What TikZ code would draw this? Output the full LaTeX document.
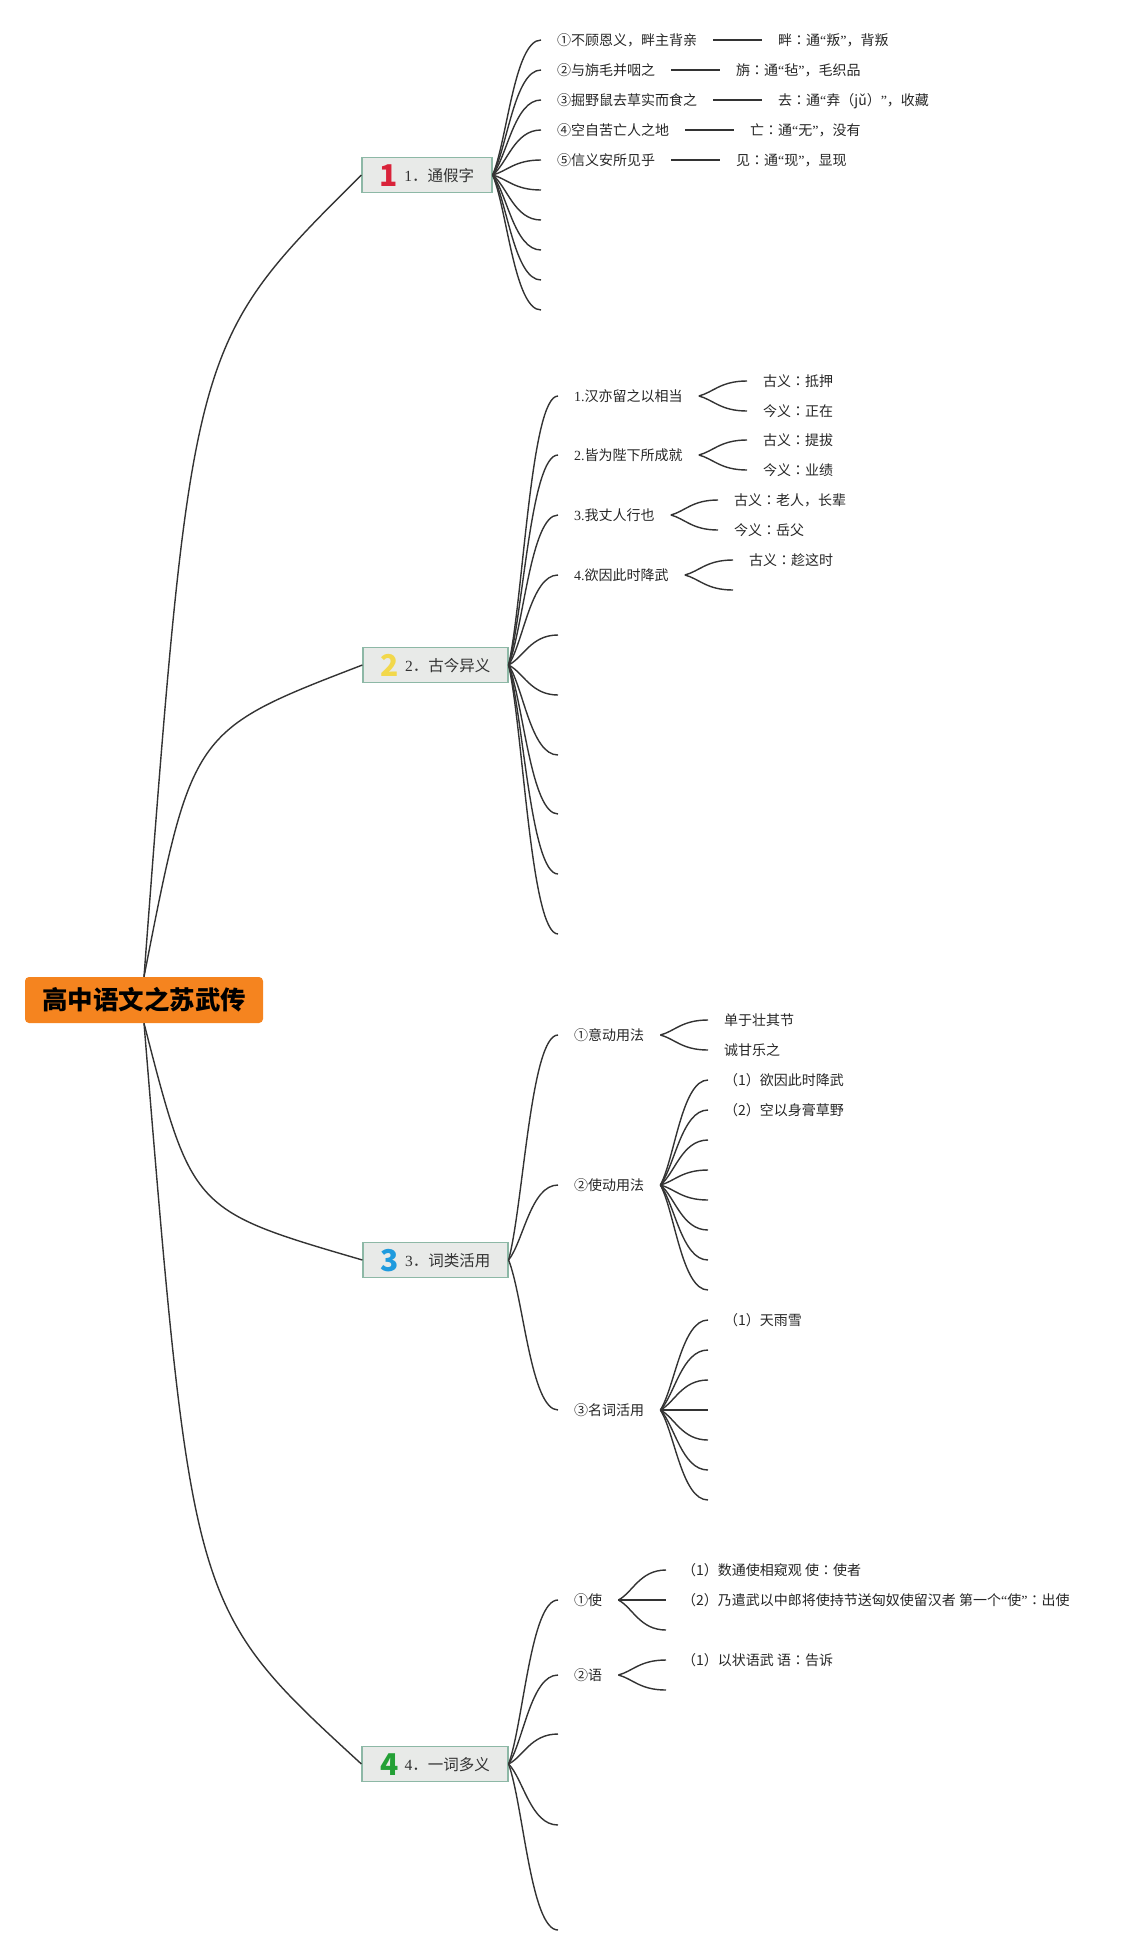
\documentclass[tikz,border=0pt]{standalone}
\usepackage{fontspec}
\setmainfont{Noto Sans CJK SC}
\newfontfamily\latf{Liberation Serif}
\newfontfamily\tcf{Noto Sans CJK TC}
\usepackage{tikz}
\usepackage{xcolor}
\usetikzlibrary{calc}

\definecolor{rootorange}{HTML}{F5841F}
\definecolor{boxgrey}{HTML}{E8EAE8}
\definecolor{boxline}{HTML}{8DB8A6}
\definecolor{conngrey}{HTML}{333333}
\definecolor{iconred}{HTML}{D9233A}
\definecolor{iconyellow}{HTML}{F2D84B}
\definecolor{iconblue}{HTML}{1F9BDE}
\definecolor{icongreen}{HTML}{23A035}

\newcommand{\bicon}[2]{\raisebox{-5pt}{\fontsize{30}{30}\selectfont\bfseries\color{#1}#2}\hspace{6pt}}
\newcommand{\qo}{{\latf “}}
\newcommand{\qc}{{\latf ”}}
\newcommand{\cln}{{\tcf ：}}

\begin{document}
\begin{tikzpicture}[x=1pt,y=-1pt,
  rootbox/.style={fill=rootorange,rounded corners=4pt,minimum width=238pt,minimum height=46pt,font=\fontsize{25.5}{26}\selectfont\bfseries,text=black},
  branchbox/.style={draw=boxline,fill=boxgrey,line width=1.2pt,minimum height=35pt,text height=13pt,text depth=1pt,inner xsep=0pt,font=\fontsize{15.5}{16}\selectfont,text=black!80},
  leaftext/.style={anchor=west,inner xsep=16pt,inner ysep=0pt,text height=11pt,text depth=1pt,font=\fontsize{14}{14}\selectfont,text=black!85},
  conn/.style={draw=conngrey,line width=1.4pt},
  rootlink/.style={conn,to path={let \p1=($(\tikztostart)!0.22!(\tikztotarget)$), \p2=($(\tikztostart)!0.79!(\tikztotarget)$) in .. controls (\x1,\y2) .. (\tikztotarget)}},
  fanlink/.style={conn,to path={let \p1=(\tikztostart), \p2=(\tikztotarget) in .. controls ({\x1+0.3*(\x2-\x1)},{\y1+0.25*(\y2-\y1)}) and ({\x1+0.45*(\x2-\x1)},\y2) .. (\tikztotarget)}}
]

\useasboundingbox (0,0) rectangle (1128,1955);

\node[rootbox] (root) at (144,1000) {高中语文之苏武传};

\node[branchbox,minimum width=130pt] (b1) at (427,175) {\bicon{iconred}{1}{\latf 1}．通假字};
\node[branchbox,minimum width=145pt] (b2) at (435.5,665) {\bicon{iconyellow}{2}{\latf 2}．古今异义};
\node[branchbox,minimum width=145pt] (b3) at (435.5,1260) {\bicon{iconblue}{3}{\latf 3}．词类活用};
\node[branchbox,minimum width=146pt] (b4) at (435,1764) {\bicon{icongreen}{4}{\latf 4}．一词多义};

\draw[rootlink] (root.north) to (b1.west);
\draw[rootlink] (root.north) to (b2.west);
\draw[rootlink] (root.south) to (b3.west);
\draw[rootlink] (root.south) to (b4.west);

\node[leaftext] (t1) at (541,40) {①不顾恩义，畔主背亲};
\node[leaftext] (t2) at (541,70) {②与旃毛并咽之};
\node[leaftext] (t3) at (541,100) {③掘野鼠去草实而食之};
\node[leaftext] (t4) at (541,130) {④空自苦亡人之地};
\node[leaftext] (t5) at (541,160) {⑤信义安所见乎};
\coordinate (t6) at (541,190);
\coordinate (t7) at (541,220);
\coordinate (t8) at (541,250);
\coordinate (t9) at (541,280);
\coordinate (t10) at (541,310);

\node[leaftext] (t1a) at (762,40) {畔\cln 通\qo 叛\qc ，背叛};
\node[leaftext] (t2a) at (720,70) {旃\cln 通\qo 毡\qc ，毛织品};
\node[leaftext] (t3a) at (762,100) {去\cln 通\qo 弆（jǔ）\qc ，收藏};
\node[leaftext] (t4a) at (734,130) {亡\cln 通\qo 无\qc ，没有};
\node[leaftext] (t5a) at (720,160) {见\cln 通\qo 现\qc ，显现};

\draw[fanlink] (b1.east) to (t1.west);
\draw[fanlink] (b1.east) to (t2.west);
\draw[fanlink] (b1.east) to (t3.west);
\draw[fanlink] (b1.east) to (t4.west);
\draw[fanlink] (b1.east) to (t5.west);
\draw[fanlink] (b1.east) to (t6);
\draw[fanlink] (b1.east) to (t7);
\draw[fanlink] (b1.east) to (t8);
\draw[fanlink] (b1.east) to (t9);
\draw[fanlink] (b1.east) to (t10);

\draw[conn] (t1.east) -- (t1a.west);
\draw[conn] (t2.east) -- (t2a.west);
\draw[conn] (t3.east) -- (t3a.west);
\draw[conn] (t4.east) -- (t4a.west);
\draw[conn] (t5.east) -- (t5a.west);

\node[leaftext] (g1) at (558,396) {{\latf 1.}汉亦留之以相当};
\node[leaftext] (g2) at (558,455) {{\latf 2.}皆为陛下所成就};
\node[leaftext] (g3) at (558,515) {{\latf 3.}我丈人行也};
\node[leaftext] (g4) at (558,575) {{\latf 4.}欲因此时降武};
\coordinate (g5) at (558,635);
\coordinate (g6) at (558,695);
\coordinate (g7) at (558,755);
\coordinate (g8) at (558,814);
\coordinate (g9) at (558,874);
\coordinate (g10) at (558,934);

\node[leaftext] (g1a) at (747,381) {古义\cln 抵押};
\node[leaftext] (g1b) at (747,411) {今义\cln 正在};
\node[leaftext] (g2a) at (747,440) {古义\cln 提拔};
\node[leaftext] (g2b) at (747,470) {今义\cln 业绩};
\node[leaftext] (g3a) at (718,500) {古义\cln 老人，长辈};
\node[leaftext] (g3b) at (718,530) {今义\cln 岳父};
\node[leaftext] (g4a) at (733,560) {古义\cln 趁这时};
\coordinate (g4b) at (733,590);

\draw[fanlink] (b2.east) to (g1.west);
\draw[fanlink] (b2.east) to (g2.west);
\draw[fanlink] (b2.east) to (g3.west);
\draw[fanlink] (b2.east) to (g4.west);
\draw[fanlink] (b2.east) to (g5);
\draw[fanlink] (b2.east) to (g6);
\draw[fanlink] (b2.east) to (g7);
\draw[fanlink] (b2.east) to (g8);
\draw[fanlink] (b2.east) to (g9);
\draw[fanlink] (b2.east) to (g10);

\draw[fanlink] (g1.east) to (g1a.west);
\draw[fanlink] (g1.east) to (g1b.west);
\draw[fanlink] (g2.east) to (g2a.west);
\draw[fanlink] (g2.east) to (g2b.west);
\draw[fanlink] (g3.east) to (g3a.west);
\draw[fanlink] (g3.east) to (g3b.west);
\draw[fanlink] (g4.east) to (g4a.west);
\draw[fanlink] (g4.east) to (g4b);

\node[leaftext] (w1) at (558,1035) {①意动用法};
\node[leaftext] (w2) at (558,1185) {②使动用法};
\node[leaftext] (w3) at (558,1410) {③名词活用};

\node[leaftext] (w1a) at (708,1020) {单于壮其节};
\node[leaftext] (w1b) at (708,1050) {诚甘乐之};

\node[leaftext] (w2a) at (708,1080) {（1）欲因此时降武};
\node[leaftext] (w2b) at (708,1110) {（2）空以身膏草野};
\coordinate (w2c) at (708,1140);
\coordinate (w2d) at (708,1170);
\coordinate (w2e) at (708,1200);
\coordinate (w2f) at (708,1230);
\coordinate (w2g) at (708,1260);
\coordinate (w2h) at (708,1290);

\node[leaftext] (w3a) at (708,1320) {（1）天雨雪};
\coordinate (w3b) at (708,1350);
\coordinate (w3c) at (708,1380);
\coordinate (w3d) at (708,1410);
\coordinate (w3e) at (708,1440);
\coordinate (w3f) at (708,1470);
\coordinate (w3g) at (708,1500);

\draw[fanlink] (b3.east) to (w1.west);
\draw[fanlink] (b3.east) to (w2.west);
\draw[fanlink] (b3.east) to (w3.west);

\draw[fanlink] (w1.east) to (w1a.west);
\draw[fanlink] (w1.east) to (w1b.west);

\draw[fanlink] (w2.east) to (w2a.west);
\draw[fanlink] (w2.east) to (w2b.west);
\draw[fanlink] (w2.east) to (w2c);
\draw[fanlink] (w2.east) to (w2d);
\draw[fanlink] (w2.east) to (w2e);
\draw[fanlink] (w2.east) to (w2f);
\draw[fanlink] (w2.east) to (w2g);
\draw[fanlink] (w2.east) to (w2h);

\draw[fanlink] (w3.east) to (w3a.west);
\draw[fanlink] (w3.east) to (w3b);
\draw[fanlink] (w3.east) to (w3c);
\draw[fanlink] (w3.east) to (w3d);
\draw[fanlink] (w3.east) to (w3e);
\draw[fanlink] (w3.east) to (w3f);
\draw[fanlink] (w3.east) to (w3g);

\node[leaftext] (y1) at (558,1600) {①使};
\node[leaftext] (y2) at (558,1675) {②语};
\coordinate (y3) at (558,1734);
\coordinate (y4) at (558,1825);
\coordinate (y5) at (558,1930);

\node[leaftext] (y1a) at (666,1570) {（1）数通使相窥观 使\cln 使者};
\node[leaftext] (y1b) at (666,1600) {（2）乃遣武以中郎将使持节送匈奴使留汉者 第一个\qo 使\qc \cln 出使};
\coordinate (y1c) at (666,1630);
\node[leaftext] (y2a) at (666,1660) {（1）以状语武 语\cln 告诉};
\coordinate (y2b) at (666,1690);

\draw[fanlink] (b4.east) to (y1.west);
\draw[fanlink] (b4.east) to (y2.west);
\draw[fanlink] (b4.east) to (y3);
\draw[fanlink] (b4.east) to (y4);
\draw[fanlink] (b4.east) to (y5);

\draw[fanlink] (y1.east) to (y1a.west);
\draw[fanlink] (y1.east) to (y1b.west);
\draw[fanlink] (y1.east) to (y1c);
\draw[fanlink] (y2.east) to (y2a.west);
\draw[fanlink] (y2.east) to (y2b);

\end{tikzpicture}
\end{document}
